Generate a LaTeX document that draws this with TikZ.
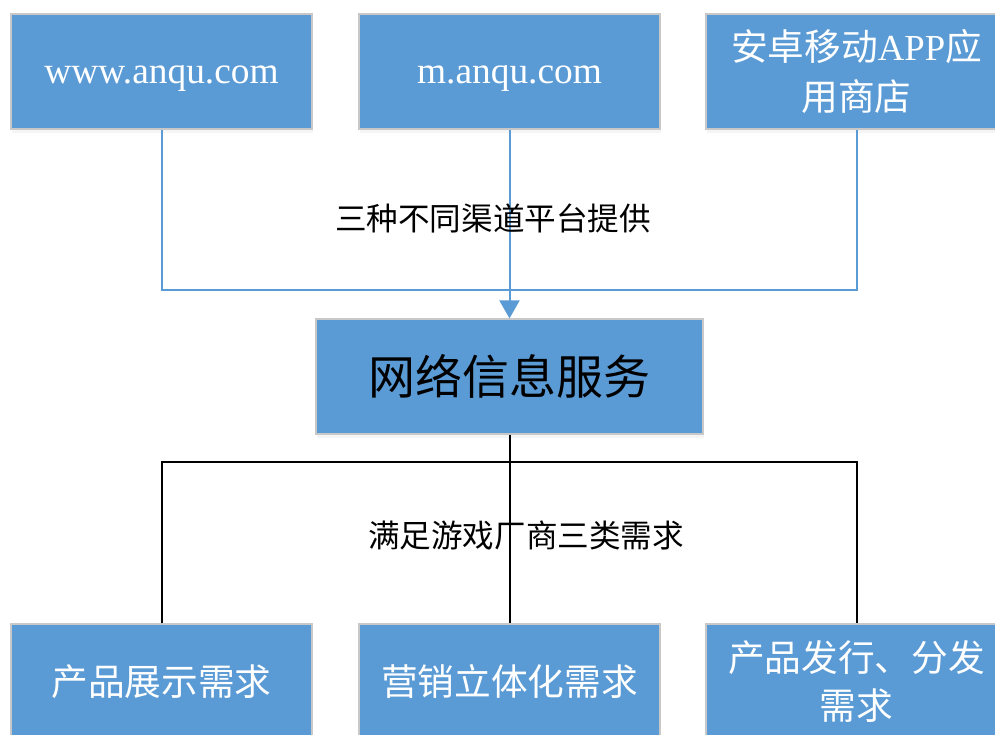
\documentclass[tikz,border=0pt]{standalone}
\usepackage{fontspec}
\setmainfont{Liberation Serif}
\newfontfamily\cjk{Noto Sans CJK SC}
\usetikzlibrary{arrows.meta,shadows}
\definecolor{boxblue}{HTML}{5B9BD5}
\definecolor{boxedge}{HTML}{C8C8C8}
\begin{document}
\begin{tikzpicture}[x=1pt,y=-1pt,
  box/.style={draw=boxedge, line width=1.2pt, fill=boxblue, minimum width=301pt, minimum height=115pt,
    inner sep=0pt, align=center, text=white, font=\fontsize{36.7}{50}\selectfont,
    drop shadow={opacity=0.08, shadow xshift=1pt, shadow yshift=-4pt}},
  midbox/.style={box, minimum width=387pt, text=black, font=\cjk\fontsize{47}{56}\selectfont},
  webtext/.style={font=\fontsize{37.4}{50}\selectfont},
  cjkbox/.style={font=\cjk\fontsize{36.7}{48}\selectfont},
  blueline/.style={draw=boxblue, line width=2pt},
  blackline/.style={draw=black, line width=2pt},
  lab/.style={font=\cjk\fontsize{31.6}{38}\selectfont, text=black, inner sep=0pt}
]
\useasboundingbox (0,0) rectangle (995,734);
\fill[white] (0,0) rectangle (995,734);
% top boxes
\node[box, webtext] (t1) at (161.5,71.5) {\raisebox{-11.5pt}[0pt][0pt]{www.anqu.com}};
\node[box, webtext] (t2) at (509.5,71.5) {\raisebox{-11.5pt}[0pt][0pt]{m.anqu.com}};
\node[box] (t3) at (856.5,71.5) {{\cjk 安卓移动}APP{\cjk 应}\\{\cjk 用商店}};
% middle
\node[midbox] (mid) at (509.5,376.5) {网络信息服务};
% bottom boxes
\node[box, cjkbox] (b1) at (161.5,681.5) {产品展示需求};
\node[box, cjkbox] (b2) at (509.5,681.5) {营销立体化需求};
\node[box, cjkbox] (b3) at (856.5,681.5) {产品发行、分发\\需求};
% connectors top
\coordinate (jt) at (509.5,290);
\draw[blueline] (t1.south) |- (jt) -| (t3.south);
\draw[blueline, -{Triangle[width=20pt,length=18pt]}] (t2.south) -- (mid.north);
% connectors bottom
\coordinate (jb) at (509.5,462);
\draw[blackline] (b1.north) |- (jb) -| (b3.north);
\draw[blackline] (mid.south) -- (b2.north);
% labels
\node[lab] (l1) at (493,218) {三种不同渠道平台提供};
\node[lab] (l2) at (526,535) {满足游戏厂商三类需求};
\end{tikzpicture}
\end{document}
